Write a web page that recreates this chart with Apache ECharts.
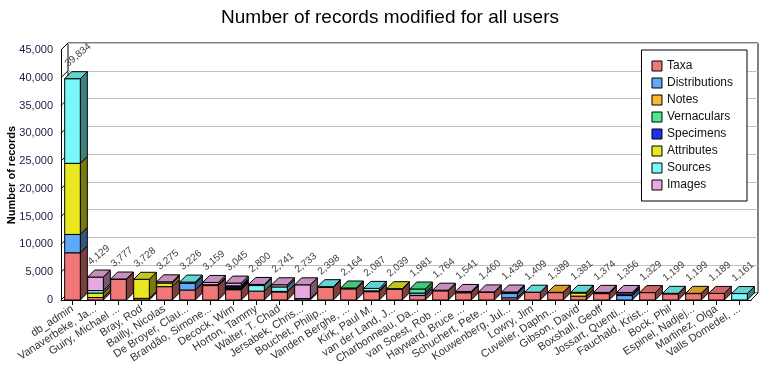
<!DOCTYPE html>
<html><head><meta charset="utf-8">
<script src="https://cdn.jsdelivr.net/npm/echarts@6/dist/echarts.min.js"></script>
<style>html,body{margin:0;padding:0;background:#fff}#c{width:780px;height:380px}</style>
</head><body><div id="c"></div>
<script>
const categories = ['db_admin','Vanaverbeke, Ja...','Guiry, Michael ...','Bray, Rod','Bailly, Nicolas','De Broyer, Clau...','Brandão, Simone...','Decock, Wim','Horton, Tammy','Walter, T. Chad','Jersabek, Chris...','Bouchet, Philip...','Vanden Berghe, ...','Kirk, Paul M.','van der Land, J...','Charbonneau, Da...','van Soest, Rob ...','Hayward, Bruce ...','Schuchert, Pete...','Kouwenberg, Jul...','Lowry, Jim','Cuvelier, Daphn...','Gibson, David','Boxshall, Geoff','Jossart, Quenti...','Fauchald, Krist...','Bock, Phil','Espinel, Nadjej...','Martinez, Olga','Valls Domedel, ...'];
const taxa          = [8500,450,3700,300,2400,1800,2600,1850,1600,1450,250,2250,2000,1500,1950,800,1650,1300,1400,400,1350,1330,700,1150,0,1329,1100,1150,1189,0];
const distributions = [3300,0,0,0,0,1200,0,150,0,0,0,0,0,150,0,450,0,0,0,800,0,0,0,0,800,0,0,0,0,0];
const notes         = [0,0,0,0,0,0,0,100,0,0,0,0,0,0,0,0,0,0,0,0,0,59,0,0,0,0,0,49,0,0];
const vernaculars   = [0,0,0,0,0,0,0,100,0,0,0,0,164,0,0,731,0,0,0,0,0,0,0,0,0,0,0,0,0,0];
const specimens     = [0,0,0,0,0,0,150,250,0,100,0,0,0,0,0,0,0,100,0,100,0,0,0,0,300,0,0,0,0,0];
const attributes    = [12800,800,0,3428,650,0,0,0,0,0,0,0,0,0,89,0,0,0,0,0,0,0,550,150,0,0,0,0,0,0];
const sources       = [15234,450,0,0,0,226,0,100,1000,800,0,148,0,437,0,0,0,0,0,0,59,0,131,0,0,0,99,0,0,1161];
const images        = [0,2429,77,0,225,0,409,495,200,391,2483,0,0,0,0,0,114,141,60,138,0,0,0,74,256,0,0,0,0,0];
const totals        = [39834,4129,3777,3728,3275,3226,3159,3045,2800,2741,2733,2398,2164,2087,2039,1981,1764,1541,1460,1438,1409,1389,1381,1374,1356,1329,1199,1199,1189,1161];
const yTicks        = [0,5000,10000,15000,20000,25000,30000,35000,40000,45000];

const seriesNames  = ['Taxa','Distributions','Notes','Vernaculars','Specimens','Attributes','Sources','Images'];
const seriesValues = [taxa, distributions, notes, vernaculars, specimens, attributes, sources, images];
const colors = ['#f07878','#60a8f8','#f8b830','#50e890','#2030f0','#e8e820','#78f8f8','#e8a8e0'];
const DEPTH = 7;
const FONT = '"Liberation Sans", Arial, sans-serif';

function shade(hex, f) {
  const n = parseInt(hex.slice(1), 16);
  const r = Math.round(((n >> 16) & 255) * f), g = Math.round(((n >> 8) & 255) * f), b = Math.round((n & 255) * f);
  return 'rgb(' + r + ',' + g + ',' + b + ')';
}
const fmt = v => Number(v).toLocaleString('en-US');

const topIdx = categories.map((_, i) => {
  let t = -1;
  seriesValues.forEach((arr, k) => { if (arr[i] > 0) t = k; });
  return t;
});

const barSeries = seriesNames.map((name, k) => {
  const data = categories.map((_, i) => {
    let base = 0;
    for (let j = 0; j < k; j++) base += seriesValues[j][i];
    return [i, base, base + seriesValues[k][i], topIdx[i] === k ? 1 : 0];
  });
  return {
    name, type: 'custom', xAxisIndex: 0, yAxisIndex: 0, z: 3,
    itemStyle: { color: colors[k] },
    data,
    renderItem: function (params, api) {
      const i = api.value(0), b = api.value(1), t = api.value(2), isTop = api.value(3);
      if (t <= b) return null;
      const band = api.size([1, 0])[0];
      const w = band * 0.68;
      const pb = api.coord([i, b]), pt = api.coord([i, t]);
      const x0 = pb[0] - w / 2, x1 = x0 + w, yb = pb[1], yt = pt[1], d = DEPTH;
      const z = i * 100 + k * 3;
      const children = [
        { type: 'polygon', z2: z, shape: { points: [[x1, yb], [x1 + d, yb - d], [x1 + d, yt - d], [x1, yt]] },
          style: { fill: shade(colors[k], 0.52), stroke: '#000', lineWidth: 1 } },
        { type: 'rect', z2: z + 1, shape: { x: x0, y: yt, width: w, height: yb - yt },
          style: { fill: colors[k], stroke: '#000', lineWidth: 1 } }
      ];
      if (isTop) children.push({ type: 'polygon', z2: z + 2,
        shape: { points: [[x0, yt], [x1, yt], [x1 + d, yt - d], [x0 + d, yt - d]] },
        style: { fill: shade(colors[k], 0.85), stroke: '#000', lineWidth: 1 } });
      return { type: 'group', children };
    }
  };
});

const frameSeries = {
  type: 'custom', name: 'frame', z: 1, silent: true, xAxisIndex: 0, yAxisIndex: 0,
  data: [[0]],
  renderItem: function (params, api) {
    const cs = params.coordSys;
    const x = cs.x, y = cs.y, w = cs.width, h = cs.height, d = DEPTH;
    const st = { stroke: '#000', lineWidth: 1 };
    const ch = [];
    yTicks.forEach(v => {
      const py = api.coord([0, v])[1];
      ch.push({ type: 'line', shape: { x1: x, y1: py, x2: x + d, y2: py - d }, style: st });
    });
    ch.push({ type: 'line', shape: { x1: x + w, y1: y + h, x2: x + w + d, y2: y + h - d }, style: st });
    return { type: 'group', children: ch };
  }
};

const labelSeries = {
  type: 'custom', name: 'totals', z: 5, silent: true, xAxisIndex: 0, yAxisIndex: 0,
  data: totals.map((v, i) => [i, v]),
  renderItem: function (params, api) {
    const p = api.coord([api.value(0), api.value(1)]);
    return { type: 'text', x: p[0] - 3, y: p[1] - DEPTH - 3, rotation: 40 * Math.PI / 180,
      style: { text: fmt(api.value(1)), fill: '#404040', font: '10px ' + FONT, align: 'left', verticalAlign: 'bottom' } };
  }
};

const chart = echarts.init(document.getElementById('c'), null, { renderer: 'canvas' });
chart.setOption({
  animation: false,
  backgroundColor: '#fff',
  title: { text: 'Number of records modified for all users', left: 'center', top: 3,
    textStyle: { fontFamily: FONT, fontSize: 19, fontWeight: 'normal', color: '#000' } },
  legend: {
    data: seriesNames, orient: 'vertical', right: 33, top: 50,
    backgroundColor: '#fff', borderColor: '#000', borderWidth: 1, borderRadius: 0,
    padding: [10, 14, 10, 10], itemGap: 5, itemWidth: 10, itemHeight: 10, icon: 'rect',
    itemStyle: { borderColor: '#000', borderWidth: 1 },
    textStyle: { fontFamily: FONT, fontSize: 12, color: '#111', lineHeight: 12 },
    selectedMode: false
  },
  grid: [
    { left: 61, right: 29, top: 50, bottom: 80, containLabel: false, outerBoundsMode: 'none' },
    { left: 68, right: 22, top: 43, bottom: 87, show: true, borderColor: '#000', borderWidth: 1, backgroundColor: '#fff', z: -1, outerBoundsMode: 'none' }
  ],
  xAxis: [
    { type: 'category', gridIndex: 0, data: categories, boundaryGap: true,
      axisLine: { show: true, lineStyle: { color: '#000', width: 1 } },
      axisTick: { show: true, alignWithLabel: true, length: 5, lineStyle: { color: '#000' } },
      axisLabel: { interval: 0, rotate: 33, fontFamily: FONT, fontSize: 11, color: '#333', margin: 8 },
      splitLine: { show: false } },
    { type: 'value', gridIndex: 1, show: false, min: 0, max: 1 }
  ],
  yAxis: [
    { type: 'value', gridIndex: 0, min: 0, max: 45000, interval: 5000,
      axisLine: { show: true, lineStyle: { color: '#000', width: 1 } },
      axisTick: { show: false }, splitLine: { show: false },
      axisLabel: { formatter: v => fmt(v), fontFamily: FONT, fontSize: 11, color: '#1a1a4a', margin: 8 },
      name: 'Number of records', nameLocation: 'middle', nameGap: 44, nameMoveOverlap: false,
      nameTextStyle: { fontFamily: FONT, fontSize: 11, fontWeight: 'bold', color: '#000' } },
    { type: 'value', gridIndex: 1, min: 0, max: 45000, interval: 5000,
      axisLine: { show: false }, axisTick: { show: false }, axisLabel: { show: false },
      splitLine: { show: true, lineStyle: { color: '#c0c0c0', width: 1 } } }
  ],
  series: [frameSeries].concat(barSeries, [labelSeries])
});
</script></body></html>
